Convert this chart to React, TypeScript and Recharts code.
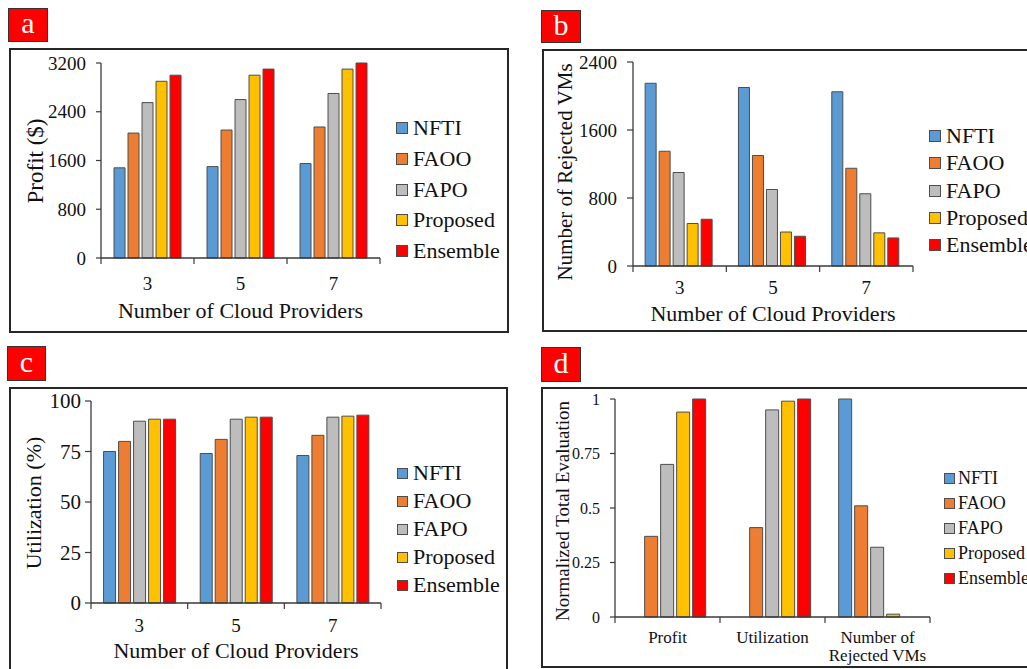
import React from 'react';
import { BarChart, Bar, XAxis, YAxis } from 'recharts';

const SERIES = ['NFTI', 'FAOO', 'FAPO', 'Proposed', 'Ensemble'];
const COLORS = ['#5B9BD5', '#ED7D31', '#BDBDBD', '#FFC000', '#FF0000'];

// x categories
const PROVIDERS = ['3', '5', '7'];
const METRICS = ['Profit', 'Utilization', 'Number of\nRejected VMs'];

// (a) profit in $, per number of cloud providers
const profitNFTI = [1480, 1500, 1550];
const profitFAOO = [2050, 2100, 2150];
const profitFAPO = [2550, 2600, 2700];
const profitProposed = [2900, 3000, 3100];
const profitEnsemble = [3000, 3100, 3200];

// (b) rejected VMs
const rejectedNFTI = [2150, 2100, 2050];
const rejectedFAOO = [1350, 1300, 1150];
const rejectedFAPO = [1100, 900, 850];
const rejectedProposed = [500, 400, 390];
const rejectedEnsemble = [550, 350, 330];

// (c) utilization in %
const utilNFTI = [75, 74, 73];
const utilFAOO = [80, 81, 83];
const utilFAPO = [90, 91, 92];
const utilProposed = [91, 92, 92.5];
const utilEnsemble = [91, 92, 93];

// (d) normalized total evaluation per metric
const normNFTI = [0, 0, 1];
const normFAOO = [0.37, 0.41, 0.51];
const normFAPO = [0.7, 0.95, 0.32];
const normProposed = [0.94, 0.99, 0.013];
const normEnsemble = [1, 1, 0];

const TICKS_PROFIT = [0, 800, 1600, 2400, 3200];
const TICKS_REJECTED = [0, 800, 1600, 2400];
const TICKS_UTIL = [0, 25, 50, 75, 100];
const TICKS_NORM = [0, 0.25, 0.5, 0.75, 1];

const AXIS = '#3a3a3a';
const FONT = '"Liberation Serif", "Times New Roman", serif';

function rows(cats: string[], series: number[][]) {
  return cats.map((name, i) => {
    const row: Record<string, string | number> = { name };
    SERIES.forEach((s, k) => (row[s] = series[k][i]));
    return row;
  });
}

type Rect = { x: number; y: number; w: number; h: number };

type PanelDef = {
  letter: string;
  tag: Rect;
  frame: Rect;
  plot: { l: number; r: number; t: number; b: number };
  data: Record<string, string | number>[];
  ticks: number[];
  yFont: number;
  yTickSize: number;
  yTickMargin: number;
  yTitle: string;
  yTitleX: number;
  yTitleY: number;
  yTitleFont: number;
  xTickDY: number;
  xFont: number;
  xLineH?: number;
  xTitle?: string;
  xTitleDY?: number;
  xTitleFont?: number;
  legend: { x: number; y: number; step: number; font: number; box: number; textX: number };
  gap: string;
};

function Panel(p: PanelDef) {
  const { frame, plot } = p;
  const n = p.data.length;
  const bandW = (plot.r - plot.l) / n;
  const yAxisW = 60;
  const xAxisH = 30;
  const margin = {
    top: plot.t - frame.y,
    left: plot.l - frame.x - yAxisW,
    right: frame.x + frame.w - plot.r,
    bottom: frame.y + frame.h - plot.b - xAxisH,
  };
  const bottomY = plot.b - frame.y;
  const centerX = (plot.l + plot.r) / 2 - frame.x;

  const CatTick = (props: any) => {
    const { x, y, payload, index } = props;
    const lines = String(payload.value).split('\n');
    return (
      <g>
        <line x1={x - bandW / 2} y1={y} x2={x - bandW / 2} y2={y + 6} stroke={AXIS} strokeWidth={1.2} />
        {index === n - 1 && (
          <line x1={x + bandW / 2} y1={y} x2={x + bandW / 2} y2={y + 6} stroke={AXIS} strokeWidth={1.2} />
        )}
        <text x={x} y={y + p.xTickDY} textAnchor="middle" dominantBaseline="central" fontSize={p.xFont} fill="#111">
          {lines.map((l, i) => (
            <tspan key={i} x={x} dy={i === 0 ? 0 : p.xLineH}>
              {l}
            </tspan>
          ))}
        </text>
        {index === 0 && p.xTitle && (
          <text
            x={centerX}
            y={bottomY + (p.xTitleDY ?? 0)}
            textAnchor="middle"
            dominantBaseline="central"
            fontSize={p.xTitleFont}
            fill="#111"
          >
            {p.xTitle}
          </text>
        )}
      </g>
    );
  };

  const YTitle = () => {
    const tx = p.yTitleX - frame.x;
    const ty = p.yTitleY - frame.y;
    return (
      <text
        x={tx}
        y={ty}
        transform={`rotate(-90 ${tx} ${ty})`}
        textAnchor="middle"
        dominantBaseline="central"
        fontSize={p.yTitleFont}
        fill="#111"
      >
        {p.yTitle}
      </text>
    );
  };

  return (
    <>
      <div
        style={{
          position: 'absolute',
          left: p.tag.x,
          top: p.tag.y,
          width: p.tag.w,
          height: p.tag.h,
          boxSizing: 'border-box',
          background: '#FF0000',
          border: '1px solid #333',
          color: '#fff',
          fontSize: 30,
          lineHeight: `${p.tag.h - 6}px`,
          textAlign: 'center',
        }}
      >
        {p.letter}
      </div>
      <div
        style={{
          position: 'absolute',
          left: frame.x,
          top: frame.y,
          width: frame.w,
          height: frame.h,
          boxSizing: 'border-box',
          border: '2px solid #262626',
        }}
      />
      <div style={{ position: 'absolute', left: frame.x, top: frame.y }}>
        <BarChart
          width={frame.w}
          height={frame.h}
          data={p.data}
          margin={margin}
          barGap={3}
          barCategoryGap={p.gap}
        >
          <XAxis
            dataKey="name"
            height={xAxisH}
            interval={0}
            tickLine={false}
            tickSize={0}
            tickMargin={0}
            axisLine={{ stroke: AXIS, strokeWidth: 1.3 }}
            tick={<CatTick />}
          />
          <YAxis
            width={yAxisW}
            domain={[0, p.ticks[p.ticks.length - 1]]}
            ticks={p.ticks}
            interval={0}
            tickSize={p.yTickSize}
            tickMargin={p.yTickMargin}
            axisLine={{ stroke: AXIS, strokeWidth: 1.3 }}
            tickLine={{ stroke: AXIS, strokeWidth: 1.2 }}
            tick={{ fontSize: p.yFont, fill: '#111', fontFamily: FONT }}
            label={<YTitle />}
          />
          {SERIES.map((s, i) => (
            <Bar key={s} dataKey={s} fill={COLORS[i]} stroke="#4d4d4d" strokeWidth={1} isAnimationActive={false} />
          ))}
        </BarChart>
      </div>
      {SERIES.map((s, i) => (
        <div
          key={s}
          style={{
            position: 'absolute',
            left: p.legend.x,
            top: p.legend.y + i * p.legend.step - p.legend.font,
            height: p.legend.font * 2,
            display: 'flex',
            alignItems: 'center',
            whiteSpace: 'nowrap',
          }}
        >
          <div
            style={{
              width: p.legend.box,
              height: p.legend.box,
              boxSizing: 'border-box',
              background: COLORS[i],
              border: '1px solid #4d4d4d',
              marginRight: p.legend.textX - p.legend.x - p.legend.box,
            }}
          />
          <span style={{ fontSize: p.legend.font, color: '#111' }}>{s}</span>
        </div>
      ))}
    </>
  );
}

const PANELS: PanelDef[] = [
  {
    letter: 'a',
    tag: { x: 8, y: 8, w: 40, h: 34 },
    frame: { x: 9, y: 48, w: 500, h: 285 },
    plot: { l: 101, r: 380, t: 63, b: 258 },
    data: rows(PROVIDERS, [profitNFTI, profitFAOO, profitFAPO, profitProposed, profitEnsemble]),
    ticks: TICKS_PROFIT,
    yFont: 19,
    yTickSize: 5,
    yTickMargin: 10,
    yTitle: 'Profit ($)',
    yTitleX: 35,
    yTitleY: 161,
    yTitleFont: 23,
    xTickDY: 25,
    xFont: 19,
    xTitle: 'Number of Cloud Providers',
    xTitleDY: 52,
    xTitleFont: 22,
    legend: { x: 396, y: 128, step: 30.8, font: 22, box: 12, textX: 413 },
    gap: '14%',
  },
  {
    letter: 'b',
    tag: { x: 541, y: 10, w: 40, h: 33 },
    frame: { x: 542, y: 49, w: 505, h: 283 },
    plot: { l: 633, r: 913, t: 62, b: 266 },
    data: rows(PROVIDERS, [rejectedNFTI, rejectedFAOO, rejectedFAPO, rejectedProposed, rejectedEnsemble]),
    ticks: TICKS_REJECTED,
    yFont: 19,
    yTickSize: 6,
    yTickMargin: 10,
    yTitle: 'Number of Rejected VMs',
    yTitleX: 565,
    yTitleY: 172,
    yTitleFont: 21,
    xTickDY: 21,
    xFont: 19,
    xTitle: 'Number of Cloud Providers',
    xTitleDY: 47,
    xTitleFont: 22,
    legend: { x: 929, y: 136, step: 27.3, font: 22, box: 12, textX: 946 },
    gap: '13%',
  },
  {
    letter: 'c',
    tag: { x: 7, y: 346, w: 39, h: 35 },
    frame: { x: 9, y: 387, w: 499, h: 300 },
    plot: { l: 91, r: 381, t: 401, b: 603 },
    data: rows(PROVIDERS, [utilNFTI, utilFAOO, utilFAPO, utilProposed, utilEnsemble]),
    ticks: TICKS_UTIL,
    yFont: 21,
    yTickSize: 6,
    yTickMargin: 4,
    yTitle: 'Utilization (%)',
    yTitleX: 33,
    yTitleY: 503,
    yTitleFont: 22,
    xTickDY: 22,
    xFont: 19,
    xTitle: 'Number of Cloud Providers',
    xTitleDY: 47,
    xTitleFont: 22,
    legend: { x: 397, y: 473, step: 28, font: 22, box: 11, textX: 413 },
    gap: '13%',
  },
  {
    letter: 'd',
    tag: { x: 541, y: 347, w: 40, h: 35 },
    frame: { x: 541, y: 387, w: 506, h: 281 },
    plot: { l: 615, r: 930, t: 399, b: 617 },
    data: rows(METRICS, [normNFTI, normFAOO, normFAPO, normProposed, normEnsemble]),
    ticks: TICKS_NORM,
    yFont: 16,
    yTickSize: 5,
    yTickMargin: 10,
    yTitle: 'Normalized Total Evaluation',
    yTitleX: 562,
    yTitleY: 511,
    yTitleFont: 19,
    xTickDY: 20,
    xFont: 17,
    xLineH: 18,
    legend: { x: 944, y: 478, step: 25, font: 18, box: 11, textX: 958 },
    gap: '13%',
  },
];

export default function App() {
  return (
    <div
      style={{
        position: 'absolute',
        left: 0,
        top: 0,
        width: 1027,
        height: 669,
        overflow: 'hidden',
        background: '#fff',
        fontFamily: FONT,
      }}
    >
      {PANELS.map((p) => (
        <Panel key={p.letter} {...p} />
      ))}
    </div>
  );
}
